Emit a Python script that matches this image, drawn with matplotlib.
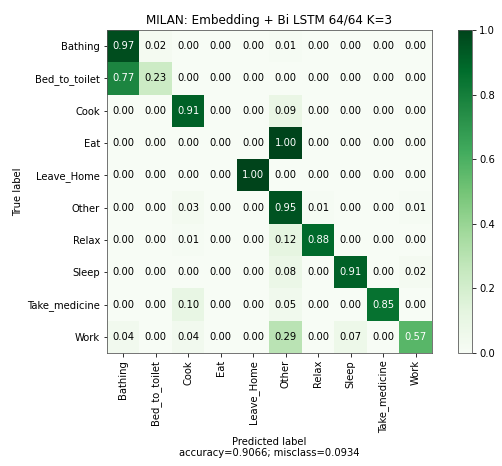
import numpy as np
import matplotlib
matplotlib.use("Agg")
import matplotlib.pyplot as plt

labels = ["Bathing", "Bed_to_toilet", "Cook", "Eat", "Leave_Home",
          "Other", "Relax", "Sleep", "Take_medicine", "Work"]

row_bathing = [0.97, 0.02, 0.00, 0.00, 0.00, 0.01, 0.00, 0.00, 0.00, 0.00]
row_bed = [0.77, 0.23, 0.00, 0.00, 0.00, 0.00, 0.00, 0.00, 0.00, 0.00]
row_cook = [0.00, 0.00, 0.91, 0.00, 0.00, 0.09, 0.00, 0.00, 0.00, 0.00]
row_eat = [0.00, 0.00, 0.00, 0.00, 0.00, 1.00, 0.00, 0.00, 0.00, 0.00]
row_leave = [0.00, 0.00, 0.00, 0.00, 1.00, 0.00, 0.00, 0.00, 0.00, 0.00]
row_other = [0.00, 0.00, 0.03, 0.00, 0.00, 0.95, 0.01, 0.00, 0.00, 0.01]
row_relax = [0.00, 0.00, 0.01, 0.00, 0.00, 0.12, 0.88, 0.00, 0.00, 0.00]
row_sleep = [0.00, 0.00, 0.00, 0.00, 0.00, 0.08, 0.00, 0.91, 0.00, 0.02]
row_med = [0.00, 0.00, 0.10, 0.00, 0.00, 0.05, 0.00, 0.00, 0.85, 0.00]
row_work = [0.04, 0.00, 0.04, 0.00, 0.00, 0.29, 0.00, 0.07, 0.00, 0.57]

accuracy = 0.9066
misclass = 0.0934

cm = np.array([row_bathing, row_bed, row_cook, row_eat, row_leave,
               row_other, row_relax, row_sleep, row_med, row_work])

fig = plt.figure(figsize=(502 / 72, 466 / 72), dpi=72)
ax = fig.add_axes([107 / 502, 1 - 353 / 466, 325 / 502, 323 / 466])
cax = fig.add_axes([458 / 502, 1 - 353 / 466, 14 / 502, 323 / 466])

im = ax.imshow(cm, interpolation="nearest", cmap=plt.get_cmap("Greens"),
               vmin=0, vmax=1, aspect="auto")
ax.set_title("MILAN: Embedding + Bi LSTM 64/64 K=3", fontsize=12)
fig.colorbar(im, cax=cax)

ticks = np.arange(len(labels))
ax.set_xticks(ticks)
ax.set_xticklabels(labels, rotation=90)
ax.set_yticks(ticks)
ax.set_yticklabels(labels)

thresh = cm.max() / 2
for i in range(cm.shape[0]):
    for j in range(cm.shape[1]):
        ax.text(j, i, "{:0.2f}".format(cm[i, j]),
                horizontalalignment="center", verticalalignment="center",
                color="white" if cm[i, j] > thresh else "black")

ax.set_ylabel("True label")
ax.set_xlabel("Predicted label\naccuracy={:0.4f}; misclass={:0.4f}".format(accuracy, misclass))

for spine in list(ax.spines.values()) + list(cax.spines.values()):
    spine.set_color("#555555")

fig.savefig("out.png", dpi=72)
